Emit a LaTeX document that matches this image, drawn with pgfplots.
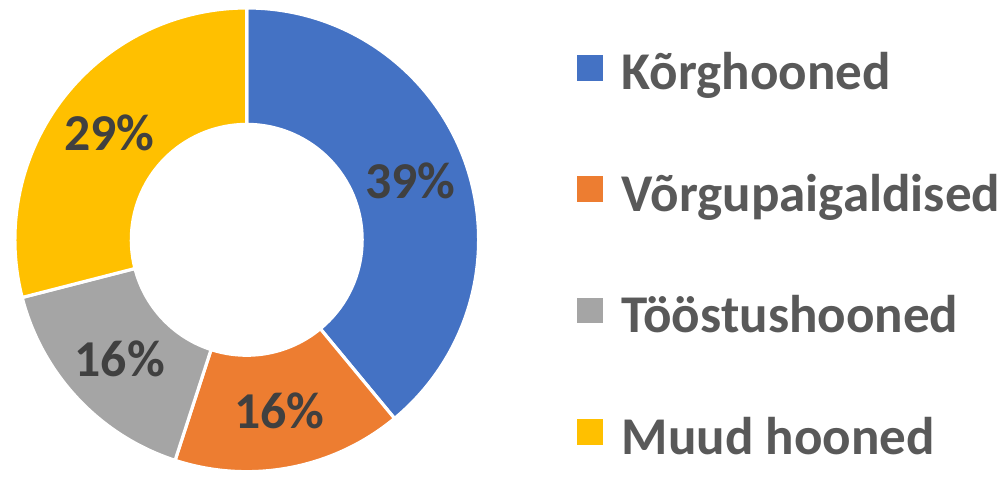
\documentclass[border=0pt]{standalone}
\usepackage{fontspec}
\setmainfont{Carlito}
\usepackage{pgfplots}
\pgfplotsset{compat=1.18}
\usepackage{pgfplotstable}

\definecolor{cBlue}{HTML}{4472C4}
\definecolor{cOrange}{HTML}{ED7D31}
\definecolor{cGray}{HTML}{A5A5A5}
\definecolor{cYellow}{HTML}{FFC000}
\definecolor{legtext}{HTML}{595959}
\definecolor{labtext}{HTML}{404040}

% share of each building type, percent
\pgfplotstableread{
value
39
16
16
29
}\donutdata

% one ring sector: start angle, end angle, colour (radii in pt, 1px = 0.75pt)
\newcommand\slice[3]{%
  \fill[#3, draw=white, line width=2.4pt]
    ([shift={(#1:174.75pt)}]axis cs:243,233)
    arc[start angle=#1, end angle=#2, radius=174.75pt]
    -- ([shift={(#2:87pt)}]axis cs:243,233)
    arc[start angle=#2, end angle=#1, radius=87pt] -- cycle;}
\newcommand\slicelabel[2]{%
  \node[font=\fontsize{39}{46}\selectfont\bfseries, text=labtext]
    at ([shift={(#1:131.25pt)}]axis cs:243,233) {#2\%};}

\begin{document}
\begin{tikzpicture}
\pgfplotstablegetelem{0}{value}\of\donutdata \let\vA\pgfplotsretval
\pgfplotstablegetelem{1}{value}\of\donutdata \let\vB\pgfplotsretval
\pgfplotstablegetelem{2}{value}\of\donutdata \let\vC\pgfplotsretval
\pgfplotstablegetelem{3}{value}\of\donutdata \let\vD\pgfplotsretval
\pgfmathsetmacro\aA{90}
\pgfmathsetmacro\aB{\aA-3.6*\vA}
\pgfmathsetmacro\aC{\aB-3.6*\vB}
\pgfmathsetmacro\aD{\aC-3.6*\vC}
\pgfmathsetmacro\aE{\aD-3.6*\vD}
\pgfmathsetmacro\mA{(\aA+\aB)/2}
\pgfmathsetmacro\mB{(\aB+\aC)/2}
\pgfmathsetmacro\mC{(\aC+\aD)/2}
\pgfmathsetmacro\mD{(\aD+\aE)/2}
\begin{axis}[
    width=753pt, height=355.5pt,
    scale only axis,
    xmin=0, xmax=1004, ymin=0, ymax=474,
    hide axis,
    clip=false,
    legend image code/.code={\fill[#1] (0pt,-2.5pt) rectangle (18.75pt,16.25pt);},
    legend cell align=left,
    legend style={at={(axis cs:575,424)}, anchor=north west,
        draw=none, fill=none, inner sep=0pt,
        font=\fontsize{40}{48}\selectfont\bfseries, text=legtext,
        row sep=51.5pt, column sep=14.25pt,
        nodes={inner sep=0pt, text height=30pt, text depth=10pt}},
]
\path (axis cs:0,0) rectangle (axis cs:1004,474);
\slice{\aA}{\aB}{cBlue}
\slice{\aB}{\aC}{cOrange}
\slice{\aC}{\aD}{cGray}
\slice{\aD}{\aE}{cYellow}
\slicelabel{\mA}{\vA}
\slicelabel{\mB}{\vB}
\slicelabel{\mC}{\vC}
\slicelabel{\mD}{\vD}
\addlegendimage{cBlue}
\addlegendimage{cOrange}
\addlegendimage{cGray}
\addlegendimage{cYellow}
\legend{Kõrghooned, Võrgupaigaldised, Tööstushooned, Muud hooned}
\end{axis}
\end{tikzpicture}
\end{document}
